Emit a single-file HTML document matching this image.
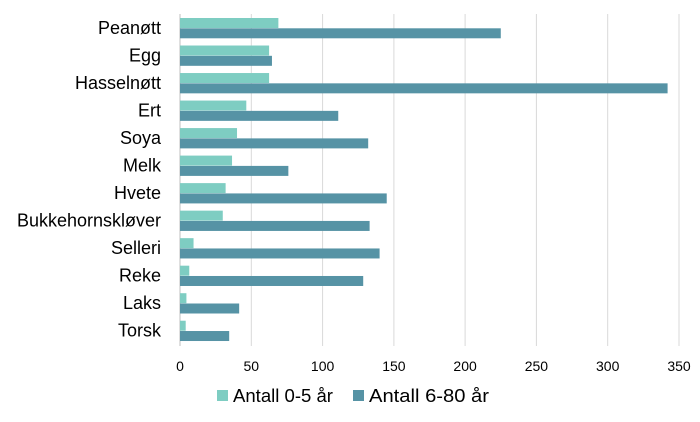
<!DOCTYPE html>
<html><head><meta charset="utf-8"><style>
html,body{margin:0;padding:0;background:#fff;}
svg{display:block;font-family:"Liberation Sans",sans-serif;}
</style></head><body>
<svg width="700" height="422" xmlns="http://www.w3.org/2000/svg">
<g stroke="#d9d9d9" stroke-width="1">
<line x1="251.3" y1="14" x2="251.3" y2="346"/>
<line x1="322.6" y1="14" x2="322.6" y2="346"/>
<line x1="393.9" y1="14" x2="393.9" y2="346"/>
<line x1="465.1" y1="14" x2="465.1" y2="346"/>
<line x1="536.4" y1="14" x2="536.4" y2="346"/>
<line x1="607.7" y1="14" x2="607.7" y2="346"/>
<line x1="679" y1="14" x2="679" y2="346"/>
<line x1="180" y1="14" x2="180" y2="346" stroke="#bfbfbf"/>
</g>
<g id="bars"></g>
<g font-size="18" fill="#000" text-anchor="end" id="labels"></g>
<g font-size="14" fill="#000" text-anchor="middle">
<text x="180" y="371">0</text><text x="251.3" y="371">50</text><text x="322.6" y="371">100</text>
<text x="393.9" y="371">150</text><text x="465.1" y="371">200</text><text x="536.4" y="371">250</text>
<text x="607.7" y="371">300</text><text x="679" y="371">350</text>
</g>
<rect x="217" y="390" width="11" height="11" fill="#7ecdc2"/>
<text x="233" y="402" font-size="18" textLength="100" lengthAdjust="spacingAndGlyphs">Antall 0-5 år</text>
<rect x="353" y="390" width="11" height="11" fill="#5693a5"/>
<text x="369" y="402" font-size="18" textLength="120" lengthAdjust="spacingAndGlyphs">Antall 6-80 år</text>
<script>
var d=[["Peanøtt",69,225],["Egg",62.5,64.5],["Hasselnøtt",62.5,342],["Ert",46.5,111],["Soya",40,132],["Melk",36.5,76],["Hvete",32,145],["Bukkehornskløver",30,133],["Selleri",9.5,140],["Reke",6.5,128.5],["Laks",4.5,41.5],["Torsk",4,34.5]];
var s=1.4257,b=document.getElementById("bars"),l=document.getElementById("labels"),ns="http://www.w3.org/2000/svg";
d.forEach(function(r,i){var y=18+i*27.52;
function R(v,yy,c){var e=document.createElementNS(ns,"rect");e.setAttribute("x",180);e.setAttribute("y",yy);e.setAttribute("width",v*s);e.setAttribute("height",10);e.setAttribute("fill",c);b.appendChild(e);}
R(r[1],y,"#7ecdc2");R(r[2],y+10.3,"#5693a5");
var t=document.createElementNS(ns,"text");t.setAttribute("x",161);t.setAttribute("y",y+16);t.textContent=r[0];l.appendChild(t);});
</script>
</svg>
</body></html>
